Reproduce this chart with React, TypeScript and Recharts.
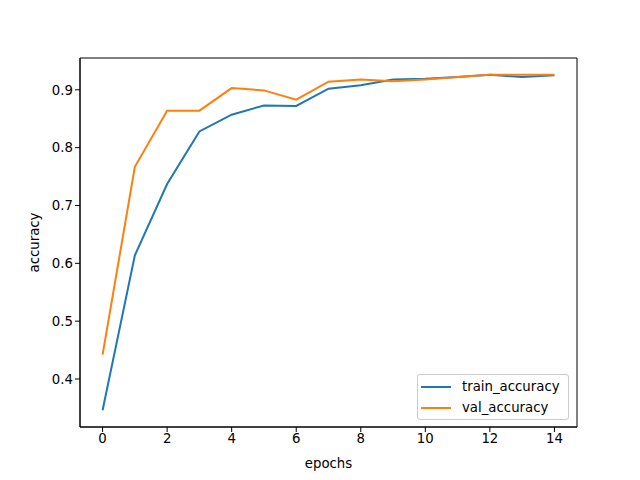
import { LineChart, Line, XAxis, YAxis, Legend, ReferenceArea } from "recharts";

const epochs = [0, 1, 2, 3, 4, 5, 6, 7, 8, 9, 10, 11, 12, 13, 14];
const trainAccuracy = [0.346, 0.614, 0.737, 0.828, 0.857, 0.873, 0.872, 0.902, 0.908, 0.918, 0.919, 0.922, 0.926, 0.922, 0.925];
const valAccuracy = [0.442, 0.767, 0.864, 0.864, 0.903, 0.899, 0.883, 0.914, 0.918, 0.915, 0.918, 0.922, 0.926, 0.926, 0.926];
const xTicks = [0, 2, 4, 6, 8, 10, 12, 14];
const yTicks = [0.4, 0.5, 0.6, 0.7, 0.8, 0.9];

const xDomain = [-0.7, 14.7];
const yDomain = [0.317, 0.955];

const data = epochs.map((e, i) => ({
  epoch: e,
  train_accuracy: trainAccuracy[i],
  val_accuracy: valAccuracy[i],
}));

const font = "'DejaVu Sans', sans-serif";
const tickStyle = { fontSize: 13.3, fill: "#000", fontFamily: font };

const LegendBox = () => (
  <div
    style={{
      width: 152,
      height: 46,
      border: "1px solid #cccccc",
      borderRadius: 3,
      background: "rgba(255,255,255,0.8)",
      fontFamily: font,
      fontSize: 13.3,
      color: "#000",
      boxSizing: "border-box",
    }}
  >
    {[
      { name: "train_accuracy", color: "#1f77b4" },
      { name: "val_accuracy", color: "#ff7f0e" },
    ].map((it, i) => (
      <div key={it.name} style={{ position: "absolute", top: 5 + i * 21, left: 4, display: "flex", alignItems: "center" }}>
        <div style={{ width: 30, height: 2, background: it.color, marginRight: 11 }} />
        <span style={{ lineHeight: "15px" }}>{it.name}</span>
      </div>
    ))}
  </div>
);

export default function App() {
  return (
    <div style={{ position: "absolute", left: 0, top: 0, width: 640, height: 480, background: "#fff" }}>
      <style>{"body{margin:0}"}</style>
      <LineChart width={640} height={480} data={data} margin={{ top: 58, right: 63, left: 0, bottom: 0 }}>
        <XAxis
          dataKey="epoch"
          type="number"
          domain={xDomain}
          ticks={xTicks}
          allowDataOverflow
          height={53}
          stroke="#000"
          tick={tickStyle}
          tickSize={5}
          label={{ value: "epochs", position: "insideBottom", offset: 12, style: { ...tickStyle, textAnchor: "middle" } }}
        />
        <YAxis
          type="number"
          domain={yDomain}
          ticks={yTicks}
          allowDataOverflow
          width={80}
          stroke="#000"
          tick={tickStyle}
          tickSize={5}
          tickFormatter={(v: number) => v.toFixed(1)}
          label={{ value: "accuracy", angle: -90, position: "insideLeft", offset: 34, style: { ...tickStyle, textAnchor: "middle" } }}
        />
        <ReferenceArea x1={xDomain[0]} x2={xDomain[1]} y1={yDomain[0]} y2={yDomain[1]} fill="none" stroke="#000" strokeWidth={1} />
        <Line dataKey="train_accuracy" stroke="#1f77b4" strokeWidth={2} dot={false} isAnimationActive={false} />
        <Line dataKey="val_accuracy" stroke="#ff7f0e" strokeWidth={2} dot={false} isAnimationActive={false} />
        <Legend
          layout="vertical"
          align="center"
          verticalAlign="middle"
          content={() => <LegendBox />}
          wrapperStyle={{ position: "absolute", left: 417, top: 374, width: 152, height: 46 }}
        />
      </LineChart>
    </div>
  );
}
